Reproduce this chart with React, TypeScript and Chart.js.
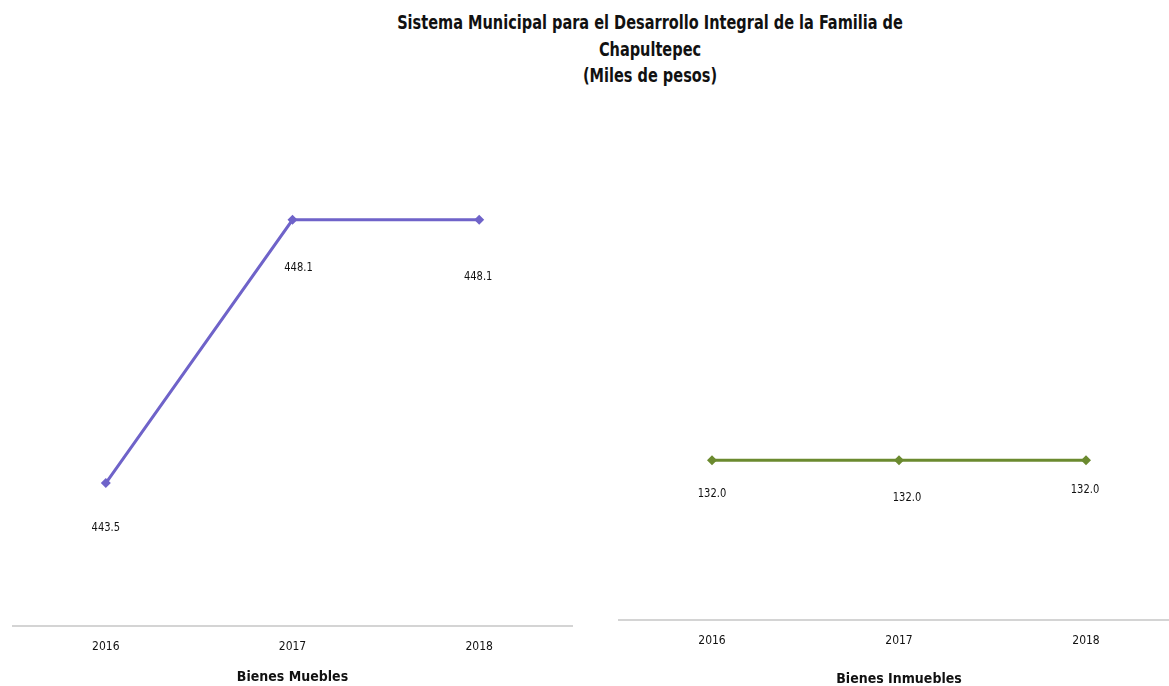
import React, { useEffect, useRef } from "react";
import { Chart, registerables } from "chart.js";

Chart.register(...registerables);

const TITLE_LINES = [
  "Sistema Municipal para el Desarrollo Integral de la Familia de",
  "Chapultepec",
  "(Miles de pesos)",
];
const years = ["2016", "2017", "2018"];
const mueblesValues = [443.5, 448.1, 448.1];
const inmueblesValues = [132.0, 132.0, 132.0];
const mueblesTitle = "Bienes Muebles";
const inmueblesTitle = "Bienes Inmuebles";

const FONT = '"Liberation Sans Narrow", "Arial Narrow", "DejaVu Sans Condensed", Arial, sans-serif';

const labelPlugin = {
  id: "pointLabels",
  afterDatasetsDraw(chart: any, _args: any, opts: any) {
    const ctx = chart.ctx;
    const meta = chart.getDatasetMeta(0);
    const data = chart.data.datasets[0].data as number[];
    ctx.save();
    ctx.font = `13px ${FONT}`;
    ctx.fillStyle = "#111";
    ctx.textAlign = "center";
    ctx.textBaseline = "middle";
    meta.data.forEach((pt: any, i: number) => {
      const dx = (opts.dx && opts.dx[i]) || 0;
      const dy = (opts.dy && opts.dy[i]) || 40;
      ctx.save();
      ctx.translate(pt.x + dx, pt.y + dy);
      ctx.scale(0.85, 1);
      ctx.fillText(Number(data[i]).toFixed(1), 0, 0);
      ctx.restore();
    });
    ctx.restore();
  },
};

function makeConfig(
  values: number[],
  color: string,
  axisTitle: string,
  yMin: number,
  yMax: number,
  titlePadTop: number,
  dx: number[],
  dy: number[]
): any {
  return {
    type: "line",
    data: {
      labels: years,
      datasets: [
        {
          data: values,
          borderColor: color,
          backgroundColor: color,
          borderWidth: 3,
          pointStyle: "rectRot",
          pointRadius: 5,
          pointBorderWidth: 0,
          tension: 0,
        },
      ],
    },
    plugins: [labelPlugin],
    options: {
      animation: false,
      responsive: false,
      maintainAspectRatio: false,
      layout: { padding: { top: 111, left: 12.5, right: 12.5, bottom: 0 } },
      plugins: {
        legend: { display: false },
        tooltip: { enabled: false },
        title: { display: false },
        pointLabels: { dx, dy },
      },
      scales: {
        x: {
          offset: true,
          grid: { display: false, drawTicks: false },
          border: { display: true, color: "#d4d4d4", width: 2 },
          ticks: { color: "#111", font: { family: FONT, size: 12 }, padding: 13 },
          title: {
            display: true,
            text: axisTitle,
            color: "#111",
            font: { family: FONT, size: 14, weight: "bold" },
            padding: { top: titlePadTop, bottom: 0 },
          },
        },
        y: {
          display: false,
          min: yMin,
          max: yMax,
        },
      },
    },
  };
}

function LineChart(props: {
  values: number[];
  color: string;
  axisTitle: string;
  yMin: number;
  yMax: number;
  titlePadTop: number;
  dx: number[];
  dy: number[];
  style: React.CSSProperties;
  width: number;
  height: number;
}) {
  const ref = useRef<HTMLCanvasElement | null>(null);
  useEffect(() => {
    if (!ref.current) return;
    const chart = new Chart(
      ref.current,
      makeConfig(props.values, props.color, props.axisTitle, props.yMin, props.yMax, props.titlePadTop, props.dx, props.dy)
    );
    return () => chart.destroy();
  }, []);
  return (
    <canvas
      ref={ref}
      width={props.width}
      height={props.height}
      style={{ position: "absolute", width: props.width, height: props.height, ...props.style }}
    />
  );
}

export default function App() {
  return (
    <div
      style={{
        position: "fixed",
        left: 0,
        top: 0,
        width: 1169,
        height: 686,
        overflow: "hidden",
        background: "#fff",
      }}
    >
      <div
        style={{
          position: "absolute",
          left: 300,
          width: 700,
          top: 9,
          textAlign: "center",
          fontFamily: FONT,
          fontWeight: "bold",
          fontSize: 19,
          lineHeight: "26.5px",
          color: "#111",
          transform: "scaleX(0.85)",
          transformOrigin: "350px 0",
        }}
      >
        {TITLE_LINES.map((t, i) => (
          <div key={i}>{t}</div>
        ))}
      </div>
      <LineChart
        values={mueblesValues}
        color="#6f63c9"
        axisTitle={mueblesTitle}
        yMin={441}
        yMax={450}
        titlePadTop={2.6}
        dx={[0, 6, -1]}
        dy={[45, 48, 57]}
        style={{ left: 0, top: 0 }}
        width={585}
        height={686}
      />
      <LineChart
        values={inmueblesValues}
        color="#6b8a2f"
        axisTitle={inmueblesTitle}
        yMin={0}
        yMax={420}
        titlePadTop={10.6}
        dx={[0, 8, -1]}
        dy={[33, 37, 29]}
        style={{ left: 606, top: 0 }}
        width={586}
        height={688}
      />
    </div>
  );
}
